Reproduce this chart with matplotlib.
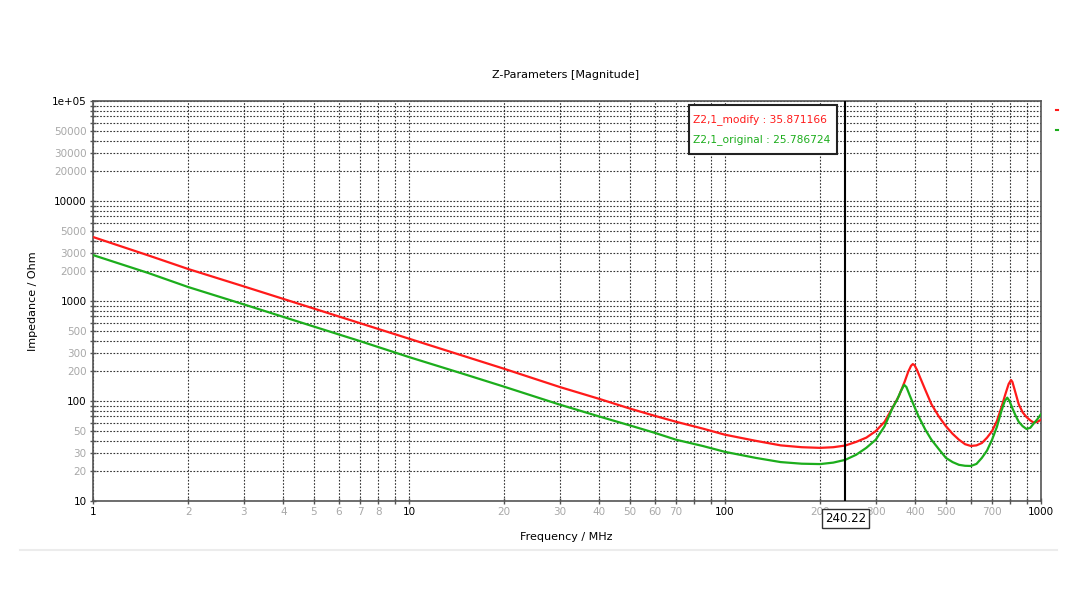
import matplotlib
matplotlib.use("Agg")
import matplotlib.pyplot as plt
from matplotlib.patches import Rectangle
from matplotlib.lines import Line2D
from matplotlib.transforms import blended_transform_factory

### values
freq_modify = [1, 1.5, 2, 3, 5, 7, 10, 15, 20, 30, 40, 50, 60, 70, 85, 100, 125, 150, 175, 200,
               220, 240.22, 260, 280, 300, 320, 340, 355, 370, 380, 388, 393, 398, 405, 415,
               430, 450, 475, 500, 525, 550, 575, 600, 625, 650, 675, 700, 725, 750, 770,
               790, 804, 812, 825, 850, 875, 900, 925, 946, 975, 1000]
z_modify = [4365, 2850, 2090, 1400, 840, 600, 420, 280, 210, 138, 105, 84, 71, 62, 53, 46, 40, 36, 34.5, 34,
            34.5, 35.87, 39, 43, 50, 62, 87, 112, 155, 196, 225, 234, 228, 205, 170,
            130, 93, 70, 56, 47, 41, 37, 35.5, 36, 38, 43, 50, 63, 87, 115,
            148, 162, 155, 130, 93, 77, 69, 64, 61, 62, 65]

freq_original = [1, 1.5, 2, 3, 5, 7, 10, 15, 20, 30, 40, 50, 60, 70, 85, 100, 125, 150, 175, 200,
                 220, 240.22, 260, 280, 300, 320, 340, 350, 360, 369, 375, 385, 395, 410, 430,
                 450, 475, 500, 525, 550, 575, 600, 625, 650, 675, 700, 725, 750, 768, 782,
                 795, 810, 830, 850, 875, 900, 925, 950, 975, 1000]
z_original = [2880, 1900, 1380, 925, 555, 397, 275, 185, 139, 92, 70, 57, 48, 41, 35.5, 31, 27, 24.5, 23.6, 23.4,
              24.2, 25.79, 29, 34, 41, 56, 87, 102, 125, 145, 138, 112, 92, 70, 52,
              41, 33, 27, 24.5, 23, 22.5, 22.4, 23.5, 27, 32, 41, 55, 80, 100, 108,
              100, 86, 72, 62, 56, 52.5, 54, 60, 66, 74]

cursor_freq = 240.22
legend_lines = ["Z2,1_modify : 35.871166", "Z2,1_original : 25.786724"]

x_ticks = [1, 2, 3, 4, 5, 6, 7, 8, 9, 10, 20, 30, 40, 50, 60, 70, 80, 90, 100,
           200, 300, 400, 500, 600, 700, 800, 900, 1000]
x_labels = ["1", "2", "3", "4", "5", "6", "7", "8", "", "10", "20", "30", "40", "50",
            "60", "70", "", "", "100", "200", "300", "400", "500", "", "700", "", "", "1000"]

y_ticks = []
y_labels = []
for dec in [10, 100, 1000, 10000]:
    for m in range(1, 10):
        y_ticks.append(dec * m)
        y_labels.append(str(dec * m) if m in (1, 2, 3, 5) else "")
y_ticks.append(100000)
y_labels.append("1e+05")

RED = "#ff1a1a"
GREEN = "#1cad1c"
GRAY = "#a8a8a8"

W, H = 1080, 608
fig = plt.figure(figsize=(W / 100, H / 100), dpi=100)
ax = fig.add_axes([93 / W, 1 - 501 / H, 948 / W, 400 / H])

ax.plot(freq_modify, z_modify, color=RED, lw=1.6, zorder=3, solid_joinstyle="round")
ax.plot(freq_original, z_original, color=GREEN, lw=1.6, zorder=3, solid_joinstyle="round")

ax.set_xscale("log")
ax.set_yscale("log")
ax.set_xlim(1, 1000)
ax.set_ylim(10, 1e5)

ax.set_xticks(x_ticks)
ax.set_xticklabels(x_labels)
ax.set_yticks(y_ticks)
ax.set_yticklabels(y_labels)
ax.minorticks_off()
ax.tick_params(direction="inout", length=5, width=1, color="#555555", labelsize=7.5, pad=2)

for t, v in zip(ax.get_xticklabels(), x_ticks):
    t.set_color("black" if v in (1, 10, 100, 1000) else GRAY)
for t, v in zip(ax.get_yticklabels(), y_ticks):
    t.set_color("black" if v in (10, 100, 1000, 10000, 100000) else GRAY)

ax.grid(True, which="major", color="#333333", linestyle=(0, (1.5, 1.5)), lw=0.8)

for s in ax.spines.values():
    s.set_color("#555555")
    s.set_linewidth(1.2)

# cursor
ax.axvline(cursor_freq, color="black", lw=1.5, zorder=4)
trans = blended_transform_factory(ax.transData, ax.transAxes)
ax.text(cursor_freq, -0.043, "240.22", transform=trans, ha="center", va="center",
        fontsize=8.5, color="black", zorder=10, clip_on=False,
        bbox=dict(boxstyle="square,pad=0.25", fc="white", ec="#333333", lw=1))

# marker readout box
fig.add_artist(Rectangle((689 / W, 1 - 154 / H), 148 / W, 49 / H, transform=fig.transFigure,
                         fc="white", ec="#222222", lw=1.5, zorder=5))
fig.text(693 / W, 1 - 120 / H, legend_lines[0], color=RED, fontsize=7.7, va="center", zorder=6)
fig.text(693 / W, 1 - 140 / H, legend_lines[1], color=GREEN, fontsize=7.7, va="center", zorder=6)

# small series markers at the right edge
fig.add_artist(Line2D([1056 / W, 1058 / W], [1 - 110 / H] * 2, color=RED, lw=1.5))
fig.add_artist(Line2D([1056 / W, 1058 / W], [1 - 130 / H] * 2, color=GREEN, lw=1.5))

fig.text(566 / W, 1 - 75 / H, "Z-Parameters [Magnitude]", ha="center", va="center", fontsize=8)
fig.text(566 / W, 1 - 537 / H, "Frequency / MHz", ha="center", va="center", fontsize=8)
fig.text(33 / W, 1 - 301 / H, "Impedance / Ohm", ha="center", va="center", rotation=90, fontsize=8)

fig.add_artist(Line2D([20 / W, 1057 / W], [1 - 550 / H] * 2, color="#ececec", lw=1.5))

fig.savefig("out.png", dpi=100)
